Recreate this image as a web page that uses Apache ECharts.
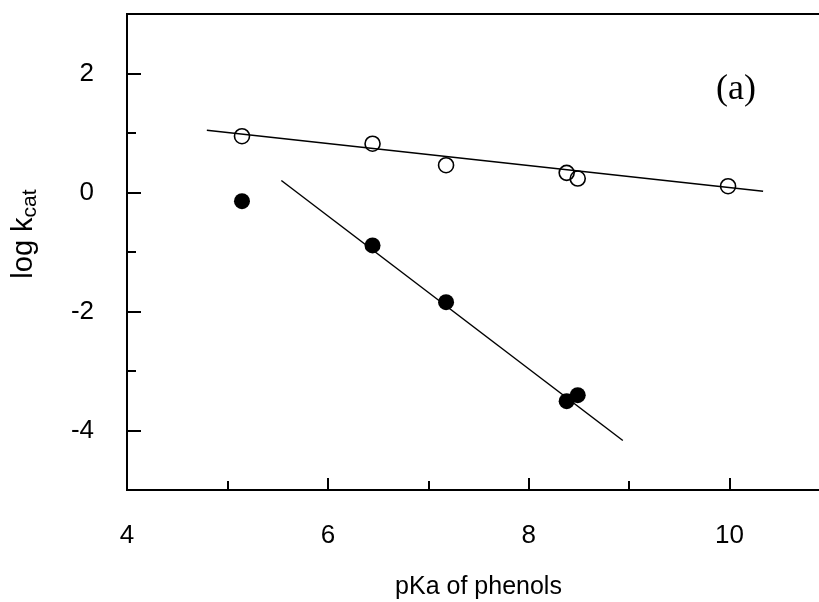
<!DOCTYPE html>
<html>
<head>
<meta charset="utf-8">
<script src="https://cdn.jsdelivr.net/npm/echarts@6/dist/echarts.min.js"></script>
<style>
html,body{margin:0;padding:0;background:#fff;overflow:hidden;width:819px;height:602px;}
#chart{width:832px;height:602px;}
</style>
</head>
<body>
<div id="chart"></div>
<script>
// Data
const pKaOpen = [5.145, 6.445, 7.177, 8.378, 8.488, 9.985];
const logKcatOpen = [0.946, 0.82, 0.459, 0.33, 0.235, 0.106];
const pKaFilled = [5.145, 6.445, 7.177, 8.378, 8.488];
const logKcatFilled = [-0.146, -0.89, -1.844, -3.507, -3.407];
const fitOpenX = [4.795, 10.334];
const fitOpenY = [1.047, 0.022];
const fitFilledX = [5.537, 8.937];
const fitFilledY = [0.202, -4.168];
const xMajorTicks = [4, 6, 8, 10];
const yMajorTicks = [-4, -2, 0, 2];

const pairs = (xs, ys) => xs.map((x, i) => [x, ys[i]]);

const chart = echarts.init(document.getElementById('chart'), null, {renderer: 'canvas'});
const sans = 'Liberation Sans, Arial, sans-serif';
const tickFont = 26;

chart.setOption({
  animation: false,
  backgroundColor: '#fff',
  grid: {left: 127, right: 2, top: 14, bottom: 112, show: true, borderColor: '#000', borderWidth: 2,
         containLabel: false, outerBoundsMode: 'none'},
  xAxis: [
    {
      type: 'value', min: 4, max: 11, interval: 1, position: 'bottom',
      axisLine: {show: true, onZero: false, lineStyle: {color: '#000', width: 2}},
      axisTick: {show: true, inside: true, length: 12, customValues: xMajorTicks, lineStyle: {color: '#000', width: 2}},
      axisLabel: {show: true, margin: 33, fontFamily: sans, fontSize: tickFont, color: '#000', customValues: xMajorTicks},
      splitLine: {show: false},
      name: 'pKa of phenols', nameLocation: 'middle', nameGap: 85,
      nameTextStyle: {fontFamily: sans, fontSize: 25, color: '#000'}
    },
    {
      type: 'value', min: 4, max: 11, interval: 1, position: 'bottom', gridIndex: 0,
      axisLine: {show: false, onZero: false},
      axisTick: {show: true, inside: true, length: 9, lineStyle: {color: '#000', width: 2}},
      axisLabel: {show: false},
      splitLine: {show: false}
    }
  ],
  yAxis: [
    {
      type: 'value', min: -5, max: 3, interval: 1, position: 'left',
      axisLine: {show: true, onZero: false, lineStyle: {color: '#000', width: 2}},
      axisTick: {show: true, inside: true, length: 14, customValues: yMajorTicks, lineStyle: {color: '#000', width: 2}},
      axisLabel: {show: true, margin: 33, fontFamily: sans, fontSize: tickFont, color: '#000', customValues: yMajorTicks},
      splitLine: {show: false}
    },
    {
      type: 'value', min: -5, max: 3, interval: 1, position: 'left', offset: 0,
      axisLine: {show: false, onZero: false},
      axisTick: {show: true, inside: true, length: 9, lineStyle: {color: '#000', width: 2}},
      axisLabel: {show: false},
      splitLine: {show: false}
    }
  ],
  graphic: [
    {
      type: 'text', x: 24, y: 234, rotation: Math.PI / 2,
      style: {
        text: '{a|log k}{b|cat}',
        align: 'center', verticalAlign: 'middle',
        rich: {
          a: {fontFamily: sans, fontSize: 29, fill: '#000', lineHeight: 34, verticalAlign: 'middle'},
          b: {fontFamily: sans, fontSize: 21, fill: '#000', lineHeight: 21, padding: [13, 0, 0, 0], verticalAlign: 'bottom'}
        }
      }
    },
    {
      type: 'text', x: 736, y: 90,
      style: {text: '(a)', fontFamily: 'Liberation Serif, Times New Roman, serif', fontSize: 36, fill: '#000', align: 'center', verticalAlign: 'middle'}
    }
  ],
  series: [
    {
      type: 'line', xAxisIndex: 0, yAxisIndex: 0, data: pairs(fitOpenX, fitOpenY),
      symbol: 'none', lineStyle: {color: '#000', width: 1.5}, z: 2
    },
    {
      type: 'line', xAxisIndex: 0, yAxisIndex: 0, data: pairs(fitFilledX, fitFilledY),
      symbol: 'none', lineStyle: {color: '#000', width: 1.5}, z: 2
    },
    {
      type: 'scatter', xAxisIndex: 0, yAxisIndex: 0, data: pairs(pKaOpen, logKcatOpen),
      symbol: 'circle', symbolSize: 15,
      itemStyle: {color: 'rgba(0,0,0,0)', borderColor: '#000', borderWidth: 1.6, opacity: 1}, z: 3
    },
    {
      type: 'scatter', xAxisIndex: 0, yAxisIndex: 0, data: pairs(pKaFilled, logKcatFilled),
      symbol: 'circle', symbolSize: 16,
      itemStyle: {color: '#000', opacity: 1}, z: 3
    }
  ]
});
</script>
</body>
</html>
